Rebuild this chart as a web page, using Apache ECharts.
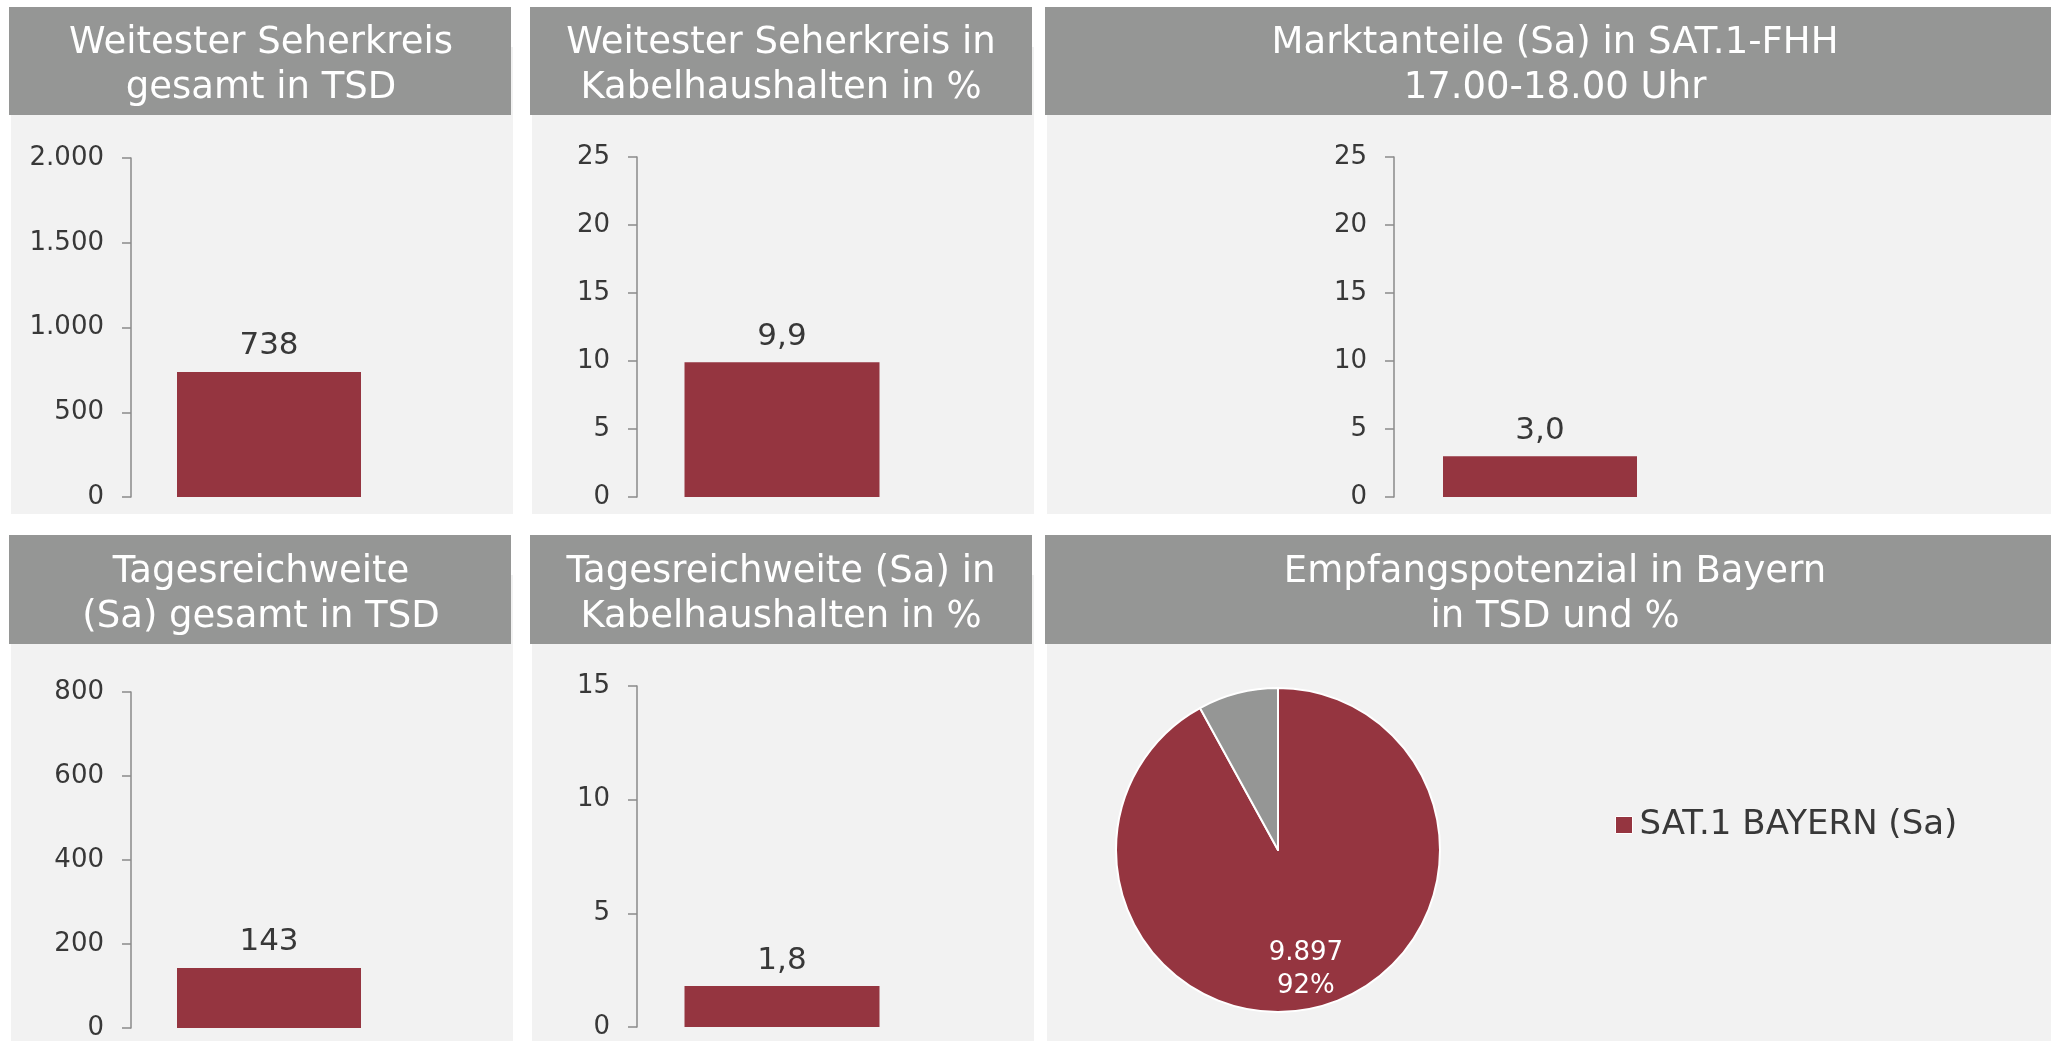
<!DOCTYPE html>
<html>
<head>
<meta charset="UTF-8"/>
<title>SAT.1 Bayern</title>
<script src="https://cdn.jsdelivr.net/npm/echarts@6/dist/echarts.min.js"></script>
<style>
html, body { margin: 0; padding: 0; background: #ffffff; }
#chart { width: 2051px; height: 1041px; }
</style>
</head>
<body>
<div id="chart"></div>
<script type="text/javascript">
// Werte aus der Vorlage
var categories = ['SAT.1 BAYERN (Sa)'];
var weitesterTsd = [738];
var weitesterPct = [9.9];
var marktanteil = [3.0];
var tagesTsd = [143];
var tagesPct = [1.8];
var pieNames = ['SAT.1 BAYERN (Sa)', 'Sonstige'];
var pieValues = [9897, 860];

var titles = [
    'Weitester Seherkreis\ngesamt in TSD',
    'Weitester Seherkreis in\nKabelhaushalten in %',
    'Marktanteile (Sa) in SAT.1-FHH\n17.00-18.00 Uhr',
    'Tagesreichweite\n(Sa) gesamt in TSD',
    'Tagesreichweite (Sa) in\nKabelhaushalten in %',
    'Empfangspotenzial in Bayern\nin TSD und %'
];

var FONT = '"DejaVu Sans", Verdana, sans-serif';
var RED = '#953540';
var GREY = '#959695';
var TXT = '#383838';

function tsd(v) {
    return String(Math.round(v)).replace(/\B(?=(\d{3})+(?!\d))/g, '.');
}
function pct(v) {
    return v.toFixed(1).replace('.', ',');
}

// panel boxes [x, width]
var cols = [[9, 502], [530, 502], [1045, 1010]];
var rows = [[7, 108, 115, 399], [535, 109, 644, 397]];
var titleCenters = [261, 781, 1555];

var graphics = [];
var t = 0;
rows.forEach(function (r) {
    cols.forEach(function (c, ci) {
        graphics.push({ type: 'rect', z: -10, shape: { x: c[0] + 2, y: r[0] + 40, width: c[1], height: r[2] - r[0] - 40 + r[3] }, style: { fill: '#f2f2f2' } });
        graphics.push({ type: 'rect', z: -9, shape: { x: c[0], y: r[0], width: c[1], height: r[1] }, style: { fill: GREY } });
        graphics.push({
            type: 'text', z: -8,
            style: {
                text: titles[t], x: titleCenters[ci], y: r[0] + r[1] / 2 + 5,
                fill: '#ffffff', font: '37px ' + FONT, lineHeight: 45,
                align: 'center', verticalAlign: 'middle'
            }
        });
        t++;
    });
});

var grids = [
    { left: 131, top: 158, width: 276, height: 339 },
    { left: 637, top: 157, width: 290, height: 340 },
    { left: 1394, top: 157, width: 292, height: 340 },
    { left: 131, top: 692, width: 276, height: 339 },
    { left: 637, top: 686, width: 290, height: 341 }
];
var maxes = [2000, 25, 25, 800, 15];
var steps = [500, 5, 5, 200, 5];
var barWidths = [184, 195, 194, 184, 195];
var seriesData = [weitesterTsd, weitesterPct, marktanteil, tagesTsd, tagesPct];
var fmts = [tsd, pct, pct, tsd, pct];

var xAxes = [], yAxes = [], series = [];
grids.forEach(function (g, i) {
    xAxes.push({
        gridIndex: i, type: 'category', data: categories,
        axisLine: { show: false }, axisTick: { show: false }, axisLabel: { show: false }
    });
    yAxes.push({
        gridIndex: i, type: 'value', min: 0, max: maxes[i], interval: steps[i],
        axisLine: { show: true, lineStyle: { color: '#8a8a8a', width: 1.5 } },
        axisTick: { show: true, length: 9, lineStyle: { color: '#8a8a8a', width: 1.5 } },
        splitLine: { show: false },
        axisLabel: {
            margin: 27, color: TXT, fontSize: 26, fontFamily: FONT,
            formatter: function (v) { return i === 0 || i === 3 ? tsd(v) : String(v); }
        }
    });
    series.push({
        type: 'bar', xAxisIndex: i, yAxisIndex: i,
        data: seriesData[i], barWidth: barWidths[i],
        itemStyle: { color: RED },
        label: {
            show: true, position: 'top', distance: 10,
            color: TXT, fontSize: 31, fontFamily: FONT,
            formatter: function (p) { return fmts[i](p.value); }
        },
        silent: true, animation: false
    });
});

series.push({
    type: 'pie', center: [1278, 850], radius: 162, startAngle: 90, clockwise: true,
    animation: false, silent: true,
    data: pieValues.map(function (v, k) {
        return { name: pieNames[k], value: v, itemStyle: { color: k === 0 ? RED : GREY } };
    }),
    itemStyle: { borderColor: '#ffffff', borderWidth: 2 },
    label: {
        show: true, position: 'inside', color: '#ffffff', fontSize: 26, fontFamily: FONT,
        lineHeight: 33,
        rich: {
            gap: { fontSize: 10, lineHeight: 76 },
            v: { color: '#ffffff', fontSize: 26, fontFamily: FONT, lineHeight: 33, padding: [0, 0, 0, 14] }
        },
        formatter: function (p) {
            return p.dataIndex === 0 ? '{gap| }\n{v|' + tsd(p.value) + '}\n{v|' + Math.round(p.percent) + '%}' : '';
        }
    },
    labelLine: { show: false }
});

var myChart = echarts.init(document.getElementById('chart'));
var option = {
    backgroundColor: '#ffffff',
    animation: false,
    graphic: graphics,
    grid: grids,
    xAxis: xAxes,
    yAxis: yAxes,
    legend: {
        data: [pieNames[0]], left: 1610, top: 803,
        itemWidth: 17, itemHeight: 17, itemGap: 10,
        icon: 'rect',
        itemStyle: { borderColor: '#ffffff', borderWidth: 1 },
        textStyle: { color: TXT, fontSize: 34, fontFamily: FONT, padding: [0, 0, 0, 2] },
        selectedMode: false
    },
    series: series
};
myChart.setOption(option, true);
</script>
</body>
</html>
